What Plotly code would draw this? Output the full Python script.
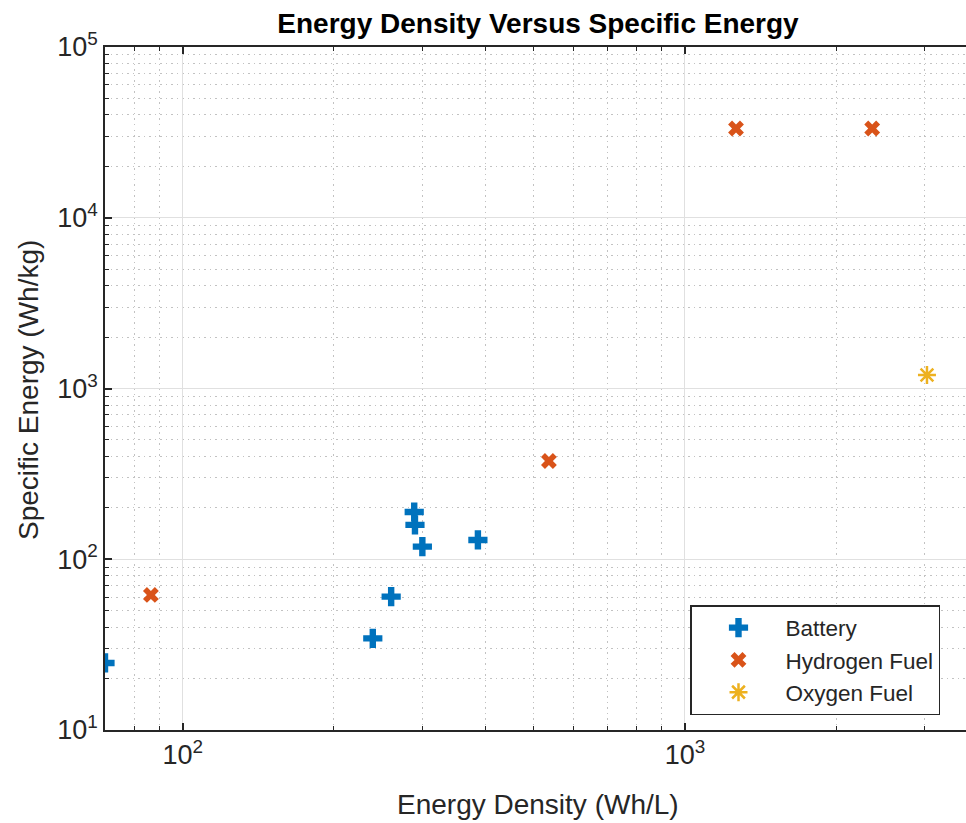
import plotly.graph_objects as go
import numpy as np

battery_x = [70, 239, 260, 289, 290, 300, 387]
battery_y = [24.7, 34.4, 60.4, 189, 159, 118.5, 129.7]
hydrogen_x = [86.4, 536, 1264, 2360]
hydrogen_y = [61.8, 376, 33300, 33300]
oxygen_x = [3034]
oxygen_y = [1200]

x_major = [100, 1000]
x_major_text = ["10<sup>2</sup>", "10<sup>3</sup>"]
y_major = [10, 100, 1000, 10000, 100000]
y_major_text = ["10<sup>1</sup>", "10<sup>2</sup>", "10<sup>3</sup>", "10<sup>4</sup>", "10<sup>5</sup>"]

x_minor = [m * 10 ** d for d in (1, 2, 3) for m in range(2, 10)]
y_minor = [m * 10 ** d for d in (1, 2, 3, 4) for m in range(2, 10)]

FONT = "Liberation Sans, Arial, sans-serif"
AX = "#262626"

fig = go.Figure()
fig.add_trace(go.Scatter(x=battery_x, y=battery_y, mode="markers", name="Battery",
                         marker=dict(symbol="cross", size=16, color="#0072BD", line=dict(width=0))))
fig.add_trace(go.Scatter(x=hydrogen_x, y=hydrogen_y, mode="markers", name="Hydrogen Fuel",
                         marker=dict(symbol="x", size=14, color="#D95319", line=dict(width=0))))
fig.add_trace(go.Scatter(x=oxygen_x, y=oxygen_y, mode="markers", name="Oxygen Fuel",
                         marker=dict(symbol="asterisk-open", size=15, color="#EDB120",
                                     line=dict(width=2.5, color="#EDB120"))))

x_lo, x_hi = np.log10(70), 3 + (966 - 685) / 502

minor_common = dict(ticks="inside", ticklen=4, tickwidth=1.2, tickcolor=AX, showgrid=True,
                    gridcolor="#c2c2c2", griddash="1.5px,4px", gridwidth=1)

fig.update_layout(
    width=966, height=823,
    margin=dict(l=105, r=0, t=47, b=93),
    paper_bgcolor="white", plot_bgcolor="white",
    font=dict(family=FONT, size=23, color=AX),
    showlegend=True,
    title=dict(text="<b>Energy Density Versus Specific Energy</b>",
               x=(538 - 105) / 861, xref="paper", xanchor="center",
               y=1 - 23 / 823, yref="container", yanchor="middle",
               font=dict(family=FONT, size=28, color="black")),
    legend=dict(x=(690 - 105) / 861, xanchor="left", y=(730 - 605) / 683, yanchor="top",
                bgcolor="white", bordercolor=AX, borderwidth=1.5,
                font=dict(family=FONT, size=22.5, color=AX),
                itemwidth=84, tracegroupgap=0),
    xaxis=dict(type="log", range=[x_lo, x_hi], tickmode="array", tickvals=x_major,
               ticktext=x_major_text, ticks="inside", ticklen=7, tickwidth=1.5, tickcolor=AX,
               showline=True, linecolor=AX, linewidth=1.5, mirror="ticks", automargin=False,
               showgrid=True, gridcolor="#e0e0e0", gridwidth=1, zeroline=False,
               tickfont=dict(family=FONT, size=27, color=AX),
               minor=dict(tickmode="array", tickvals=x_minor, **minor_common)),
    yaxis=dict(type="log", range=[1, 5], tickmode="array", tickvals=y_major,
               ticktext=y_major_text, ticks="inside", ticklen=7, tickwidth=1.5, tickcolor=AX,
               showline=True, linecolor=AX, linewidth=1.5, mirror=False, automargin=False,
               showgrid=True, gridcolor="#e0e0e0", gridwidth=1, zeroline=False,
               tickfont=dict(family=FONT, size=27, color=AX),
               minor=dict(tickmode="array", tickvals=y_minor, **minor_common)),
)

fig.add_annotation(text="Energy Density (Wh/L)", xref="paper", yref="paper",
                   x=(538 - 105) / 861, y=-(804 - 730) / 683, xanchor="center", yanchor="middle",
                   showarrow=False, font=dict(family=FONT, size=28, color=AX))
fig.add_annotation(text="Specific Energy (Wh/kg)", xref="paper", yref="paper",
                   x=-(105 - 28) / 861, y=(730 - 390) / 683, xanchor="center", yanchor="middle",
                   textangle=-90, showarrow=False, font=dict(family=FONT, size=28, color=AX))

fig.write_html("out.html", config={"displayModeBar": False},
               post_script="document.body.style.margin='0';document.body.style.overflow='hidden';")
